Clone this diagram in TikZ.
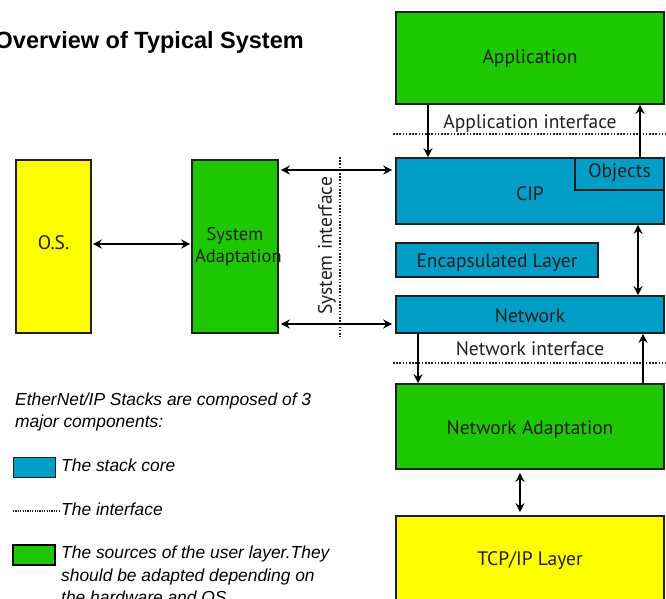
\documentclass[tikz,border=0pt]{standalone}
\usepackage{fontspec}
\setmainfont{PT Sans}
\newfontfamily\arialfont{Liberation Sans}
\usetikzlibrary{arrows.meta}
\definecolor{boxgreen}{RGB}{30,200,0}
\definecolor{boxblue}{RGB}{0,158,198}
\definecolor{boxyellow}{RGB}{255,255,0}
\definecolor{edge}{RGB}{35,31,32}
% text with its baseline #1 pt below the node centre
\newcommand{\bl}[2]{\raisebox{-#1pt}[0pt][0pt]{#2}}
\begin{document}
\begin{tikzpicture}[x=1pt,y=-1pt,
  box/.style={draw=edge, line width=1.6pt, inner sep=0pt, text=edge,
    font=\fontsize{19.5}{22}\selectfont, align=center},
  core/.style={box, fill=boxblue},
  user/.style={box, fill=boxgreen},
  ext/.style={box, fill=boxyellow},
  tip/.tip={Stealth[length=9pt,width=9pt,inset=3pt]},
  link/.style={line width=1.6pt, draw=black, tip-tip},
  one/.style={line width=1.6pt, draw=black, -tip},
  iface/.style={line width=1.6pt, dash pattern=on 1.6pt off 1.6pt, draw=edge},
  lbl/.style={inner sep=0pt, text=edge, font=\fontsize{19.5}{22}\selectfont},
  legend/.style={inner sep=0pt, anchor=base west, text=black,
    font=\arialfont\itshape\fontsize{17.4}{22.5}\selectfont},
]
\useasboundingbox (0,0) rectangle (666,598);
\fill[white] (0,0) rectangle (666,598);

% title
\node[inner sep=0pt, anchor=base east, font=\arialfont\bfseries\fontsize{23.5}{28}\selectfont]
  (title) at (304,48) {Overview of Typical System};

% right column
\node[user, minimum width=268pt, minimum height=92pt] (app) at (530,58) {\bl{5}{Application}};
\node[core, minimum width=268pt, minimum height=66pt] (cip) at (530,191) {\bl{9}{CIP}};
\node[core, minimum width=89pt, minimum height=32pt] (obj) at (619.5,174) {\bl{3.5}{Objects}};
\node[core, minimum width=202pt, minimum height=34pt] (encap) at (497,260) {\bl{7}{Encapsulated Layer}};
\node[core, minimum width=268pt, minimum height=37pt] (net) at (530,314.5) {\bl{8}{Network}};
\node[user, minimum width=268pt, minimum height=85pt] (netad) at (530,426.5) {\bl{7.5}{Network Adaptation}};
\node[ext, minimum width=268pt, minimum height=86pt] (tcp) at (530,559) {\bl{6}{TCP/IP Layer}};

% left column
\node[ext, minimum width=75pt, minimum height=173pt] (os) at (53.5,246.5) {\bl{2.5}{O.S.}};
\node[user, minimum width=86pt, minimum height=173pt, text width=80pt,
  font=\fontsize{18.5}{22}\selectfont] (sa) at (235,246.5) {System\\Adaptation};

% interfaces
\coordinate (ail) at (393,134);
\coordinate (air) at (666,134);
\draw[iface] (ail) -- (air);
\node[lbl, anchor=base] (ailbl) at (530,128) {Application interface};

\coordinate (nil) at (393,363);
\coordinate (nir) at (666,363);
\draw[iface] (nil) -- (nir);
\node[lbl, anchor=base] (nilbl) at (530,355) {Network interface};

\coordinate (sit) at (340,157);
\coordinate (sib) at (340,337);
\draw[iface] (sit) -- (sib);
\node[lbl, rotate=90] (silbl) at (327,246) {System interface};

% vertical arrows
\coordinate (xa) at (428,0);
\coordinate (xb) at (640,0);
\coordinate (xc) at (638,0);
\coordinate (xd) at (418,0);
\coordinate (xe) at (643,0);
\coordinate (xf) at (520,0);
\draw[one] (app.south -| xa) -- (cip.north -| xa);
\draw[one] (cip.north -| xb) -- (app.south -| xb);
\draw[link] (cip.south -| xc) -- (net.north -| xc);
\draw[one] (net.south -| xd) -- (netad.north -| xd);
\draw[one] (netad.north -| xe) -- (net.south -| xe);
\draw[link, shorten <=3pt, shorten >=3pt] (netad.south -| xf) -- (tcp.north -| xf);

% horizontal arrows
\coordinate (ya) at (0,244);
\coordinate (yb) at (0,170);
\coordinate (yc) at (0,324);
\draw[link, shorten <=1pt, shorten >=1pt] (os.east |- ya) -- (sa.west |- ya);
\draw[link, shorten <=2pt, shorten >=3pt] (sa.east |- yb) -- (cip.west |- yb);
\draw[link, shorten <=2pt, shorten >=3pt] (sa.east |- yc) -- (net.west |- yc);

% legend
\node[legend] (l1) at (15,405) {EtherNet/IP Stacks are composed of 3};
\node[legend] (l2) at (15,427) {major components:};
\node[draw=edge, line width=1pt, fill=boxblue, minimum width=42pt, minimum height=20pt, inner sep=0pt] (lb) at (34,467) {};
\node[legend] (lbt) at (61,471) {The stack core};
\coordinate (ldl) at (13,511);
\coordinate (ldr) at (60,511);
\draw[line width=1.1pt, dash pattern=on 1.1pt off 1.3pt, draw=edge] (ldl) -- (ldr);
\node[legend] (ldt) at (61,515) {The interface};
\node[draw=black, line width=2pt, fill=boxgreen, minimum width=42pt, minimum height=20pt, inner sep=0pt] (lg) at (34,555) {};
\node[legend] (lg1) at (61,558) {The sources of the user layer.They};
\node[legend] (lg2) at (61,581) {should be adapted depending on};
\node[legend] (lg3) at (61,603) {the hardware and OS};
\end{tikzpicture}
\end{document}
